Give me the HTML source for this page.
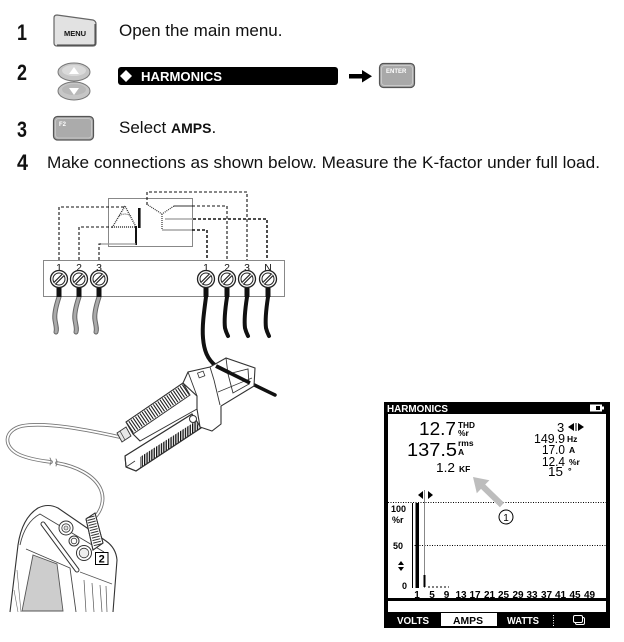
<!DOCTYPE html>
<html>
<head>
<meta charset="utf-8">
<style>
html,body{margin:0;padding:0;background:#fff;}
body{width:624px;height:642px;overflow:hidden;position:relative;}
svg{position:absolute;left:0;top:0;}
text{font-family:"Liberation Sans",Arial,sans-serif;}
</style>
</head>
<body>
<svg width="624" height="642" viewBox="0 0 624 642" xmlns="http://www.w3.org/2000/svg">
<defs>
<pattern id="vstripe" patternUnits="userSpaceOnUse" width="2.4" height="10">
<rect x="0" y="0" width="1.3" height="10" fill="#111"/>
</pattern>
</defs>
<!-- ===== Step numbers ===== -->
<g font-weight="bold" font-size="22" fill="#111">
<text x="17" y="40" textLength="10" lengthAdjust="spacingAndGlyphs">1</text>
<text x="17" y="80" textLength="10" lengthAdjust="spacingAndGlyphs">2</text>
<text x="17" y="137" textLength="10" lengthAdjust="spacingAndGlyphs">3</text>
<text x="17" y="170" textLength="11" lengthAdjust="spacingAndGlyphs">4</text>
</g>
<!-- MENU button -->
<path d="M54,18 Q54,15 57,15 L93,20 Q96,21 96,24 L96,43 Q96,46 93,46 L57,46 Q54,46 54,43 Z" fill="#e2e2e2" stroke="#666" stroke-width="1.2"/>
<path d="M95,24 L95,44 Q95,45 93,45 L57,45" fill="none" stroke="#444" stroke-width="1"/>
<text x="75" y="36" font-size="7.5" font-weight="bold" text-anchor="middle" fill="#111">MENU</text>
<text x="119" y="36" font-size="17" fill="#111">Open the main menu.</text>
<!-- up / down buttons -->
<ellipse cx="74" cy="72" rx="16" ry="9" fill="#c6c6c6" stroke="#777" stroke-width="1"/>
<ellipse cx="74" cy="70.5" rx="12" ry="5.5" fill="#dadada"/>
<polygon points="69,74 79,74 74,67" fill="#fff"/>
<ellipse cx="74" cy="91" rx="16" ry="9" fill="#c6c6c6" stroke="#777" stroke-width="1"/>
<ellipse cx="74" cy="89.5" rx="12" ry="5.5" fill="#b8b8b8"/>
<polygon points="69,88 79,88 74,95" fill="#fff"/>
<!-- HARMONICS bar -->
<rect x="118" y="67" width="220" height="18" rx="3" fill="#000"/>
<polygon points="126,70 132,76 126,82 120,76" fill="#fff"/>
<text x="141" y="81" font-size="13" font-weight="bold" fill="#fff" textLength="81" lengthAdjust="spacingAndGlyphs">HARMONICS</text>
<!-- arrow -->
<rect x="349" y="74" width="14" height="4.5" fill="#000"/>
<polygon points="362,70 372,76.2 362,82.5" fill="#000"/>
<!-- ENTER -->
<rect x="379.5" y="63.5" width="35" height="24" rx="4" fill="#a9a9a9" stroke="#555" stroke-width="1.2"/>
<rect x="381.5" y="65.5" width="31" height="20" rx="3" fill="none" stroke="#c8c8c8" stroke-width="1"/>
<text x="386" y="73" font-size="6" font-weight="bold" fill="#fff">ENTER</text>
<!-- F2 -->
<rect x="53.5" y="116.5" width="40" height="23.5" rx="4" fill="#ababab" stroke="#555" stroke-width="1.2"/>
<rect x="55.5" y="118.5" width="36" height="19.5" rx="3" fill="none" stroke="#c6c6c6" stroke-width="1"/>
<text x="59" y="126" font-size="6" font-weight="bold" fill="#fff">F2</text>
<text x="119" y="133" font-size="17" fill="#111">Select <tspan font-size="14" font-weight="bold">AMPS</tspan>.</text>
<text x="47" y="168" font-size="17" fill="#111" textLength="553" lengthAdjust="spacingAndGlyphs">Make connections as shown below. Measure the K-factor under full load.</text>

<!-- ===== Wiring diagram ===== -->
<rect x="108.5" y="198.5" width="84" height="48" fill="#fff" stroke="#888" stroke-width="1"/>
<path d="M125,206 L112.5,227 L136,227 Z" fill="none" stroke="#333" stroke-width="1.4" stroke-dasharray="1,1"/>
<path d="M119,216 Q125,212 131,216" fill="none" stroke="#333" stroke-width="0.9" stroke-dasharray="1,1"/>
<rect x="138" y="208" width="2.6" height="20" fill="#111"/>
<line x1="136" y1="226" x2="136" y2="245" stroke="#111" stroke-width="2"/>
<line x1="100" y1="244" x2="136" y2="244" stroke="#999" stroke-width="1.2"/>
<path d="M148,205 L162,214 L174,206 M162,214 L162,230" fill="none" stroke="#333" stroke-width="1.2" stroke-dasharray="1,1"/>
<line x1="174" y1="206" x2="192" y2="206" stroke="#333" stroke-width="1"/>
<line x1="165" y1="219" x2="193" y2="219" stroke="#aaa" stroke-width="1.5"/>
<line x1="162" y1="230" x2="192" y2="230" stroke="#777" stroke-width="1"/>
<g fill="none" stroke="#111" stroke-width="1.1" stroke-dasharray="3,2">
<path d="M59,260 L59,207 L125,207"/>
<path d="M79,260 L79,227 L113,227"/>
<path d="M99,260 L99,244 L102,244"/>
<path d="M147,205 L147,192 L247,192 L247,260"/>
<path d="M192,206 L227,206 L227,260"/>
<path d="M193,219 L267,219 L267,260" stroke-width="1.5"/>
<path d="M192,230 L207,230 L207,260" stroke-width="1.5"/>
</g>
<rect x="43.5" y="260.5" width="241" height="36" fill="#fff" stroke="#888" stroke-width="1"/>
<g font-size="10.5" fill="#111" text-anchor="middle">
<text x="59" y="271">1</text><text x="79" y="271">2</text><text x="99" y="271">3</text>
<text x="206" y="271">1</text><text x="227" y="271">2</text><text x="247" y="271">3</text><text x="268" y="271">N</text>
</g>
<g fill="none" stroke-linecap="round">
<g stroke="#666" stroke-width="5">
<path d="M59,297 C56,306 54,314 55,320 C56,326 57,329 56,332"/>
<path d="M79,297 C76,306 74,314 75,320 C76,326 77,329 76,332"/>
<path d="M99,297 C96,306 94,314 95,320 C96,326 97,329 96,332"/>
</g>
<g stroke="#aaa" stroke-width="3">
<path d="M59,297 C56,306 54,314 55,320 C56,326 57,329 56,332"/>
<path d="M79,297 C76,306 74,314 75,320 C76,326 77,329 76,332"/>
<path d="M99,297 C96,306 94,314 95,320 C96,326 97,329 96,332"/>
</g>
<g stroke="#111" stroke-width="4">
<path d="M206,297 C204,312 202,326 203,338 C204,350 207,359 216,366"/>
<path d="M227,297 C225,310 224,320 225,328 C226,332 227,334 228,336"/>
<path d="M247,297 C245,310 244,320 245,328 C246,332 247,334 248,336"/>
<path d="M268,297 C266,310 265,320 266,328 C267,332 268,334 269,336"/>
<path d="M226,372 C245,380 260,388 275,395" stroke-width="3.5"/>
</g>
</g>
<g>
<g><rect x="56.5" y="287" width="5" height="10" fill="#111"/><circle cx="59" cy="279" r="8.5" fill="#fff" stroke="#222" stroke-width="1.3"/><circle cx="59" cy="279" r="6" fill="none" stroke="#222" stroke-width="1"/><line x1="54.5" y1="283.5" x2="63.5" y2="274.5" stroke="#222" stroke-width="3.4"/><line x1="54.5" y1="283.5" x2="63.5" y2="274.5" stroke="#fff" stroke-width="1.2"/></g>
<g><rect x="76.5" y="287" width="5" height="10" fill="#111"/><circle cx="79" cy="279" r="8.5" fill="#fff" stroke="#222" stroke-width="1.3"/><circle cx="79" cy="279" r="6" fill="none" stroke="#222" stroke-width="1"/><line x1="74.5" y1="283.5" x2="83.5" y2="274.5" stroke="#222" stroke-width="3.4"/><line x1="74.5" y1="283.5" x2="83.5" y2="274.5" stroke="#fff" stroke-width="1.2"/></g>
<g><rect x="96.5" y="287" width="5" height="10" fill="#111"/><circle cx="99" cy="279" r="8.5" fill="#fff" stroke="#222" stroke-width="1.3"/><circle cx="99" cy="279" r="6" fill="none" stroke="#222" stroke-width="1"/><line x1="94.5" y1="283.5" x2="103.5" y2="274.5" stroke="#222" stroke-width="3.4"/><line x1="94.5" y1="283.5" x2="103.5" y2="274.5" stroke="#fff" stroke-width="1.2"/></g>
<g><rect x="203.5" y="287" width="5" height="10" fill="#111"/><circle cx="206" cy="279" r="8.5" fill="#fff" stroke="#222" stroke-width="1.3"/><circle cx="206" cy="279" r="6" fill="none" stroke="#222" stroke-width="1"/><line x1="201.5" y1="283.5" x2="210.5" y2="274.5" stroke="#222" stroke-width="3.4"/><line x1="201.5" y1="283.5" x2="210.5" y2="274.5" stroke="#fff" stroke-width="1.2"/></g>
<g><rect x="224.5" y="287" width="5" height="10" fill="#111"/><circle cx="227" cy="279" r="8.5" fill="#fff" stroke="#222" stroke-width="1.3"/><circle cx="227" cy="279" r="6" fill="none" stroke="#222" stroke-width="1"/><line x1="222.5" y1="283.5" x2="231.5" y2="274.5" stroke="#222" stroke-width="3.4"/><line x1="222.5" y1="283.5" x2="231.5" y2="274.5" stroke="#fff" stroke-width="1.2"/></g>
<g><rect x="244.5" y="287" width="5" height="10" fill="#111"/><circle cx="247" cy="279" r="8.5" fill="#fff" stroke="#222" stroke-width="1.3"/><circle cx="247" cy="279" r="6" fill="none" stroke="#222" stroke-width="1"/><line x1="242.5" y1="283.5" x2="251.5" y2="274.5" stroke="#222" stroke-width="3.4"/><line x1="242.5" y1="283.5" x2="251.5" y2="274.5" stroke="#fff" stroke-width="1.2"/></g>
<g><rect x="265.5" y="287" width="5" height="10" fill="#111"/><circle cx="268" cy="279" r="8.5" fill="#fff" stroke="#222" stroke-width="1.3"/><circle cx="268" cy="279" r="6" fill="none" stroke="#222" stroke-width="1"/><line x1="263.5" y1="283.5" x2="272.5" y2="274.5" stroke="#222" stroke-width="3.4"/><line x1="263.5" y1="283.5" x2="272.5" y2="274.5" stroke="#fff" stroke-width="1.2"/></g>
</g>

<!-- ===== Current clamp ===== -->
<g fill="none" stroke-linecap="round">
<path d="M120,437 C100,433 50,421 22,426 C4,430 2,447 20,455 C32,460 44,461 51,462 M57,463 C75,466 95,475 101,490 C105,500 101,510 96,516" stroke="#777" stroke-width="3.6"/>
<path d="M120,437 C100,433 50,421 22,426 C4,430 2,447 20,455 C32,460 44,461 51,462 M57,463 C75,466 95,475 101,490 C105,500 101,510 96,516" stroke="#fff" stroke-width="1.8"/>
<path d="M50,458 Q52,461 50,465 M56,459 Q58,462 56,466" stroke="#777" stroke-width="0.9"/>
</g>
<polygon points="117,433 126,427 131,436 122,442" fill="#e6e6e6" stroke="#333" stroke-width="0.9"/>
<line x1="120" y1="431" x2="125" y2="440" stroke="#333" stroke-width="0.7"/>
<!-- lower jaw -->
<polygon points="125,456 192,414 201,428 136,471 126,467" fill="#fff" stroke="#333" stroke-width="1.1"/>
<polygon points="140,468 200,429 196,421 140,457" fill="url(#vstripe)"/>
<polygon points="125,456 192,414 201,428 136,471 126,467" fill="none" stroke="#333" stroke-width="1.1"/>
<line x1="126" y1="467" x2="135" y2="461" stroke="#333" stroke-width="0.8"/>
<!-- ribbed upper handle -->
<polygon points="126,422 183,383 197,396 197,409 140,441 133,434" fill="#fff" stroke="#333" stroke-width="1"/>
<line x1="129.5" y1="428" x2="186.5" y2="389" stroke="#222" stroke-width="12" stroke-dasharray="1.1,1.6"/>
<polygon points="126,422 183,383 190,395 133,434" fill="none" stroke="#333" stroke-width="1"/>
<line x1="133" y1="434" x2="140" y2="441" stroke="#333" stroke-width="1"/>
<!-- head -->
<polygon points="183,383 188,372 210,367 226,358 255,368 254,386 221,406 221,424 212,431 200,427 197,409 197,396" fill="#fff" stroke="#333" stroke-width="1.1"/>
<polygon points="228,374 248,369 249,384 233,393" fill="#fff" stroke="#333" stroke-width="0.9"/>
<line x1="188" y1="372" x2="197" y2="396" stroke="#333" stroke-width="0.9"/>
<line x1="210" y1="367" x2="214" y2="380" stroke="#333" stroke-width="0.9"/>
<line x1="214" y1="380" x2="220" y2="405" stroke="#333" stroke-width="0.9"/>
<line x1="226" y1="358" x2="228" y2="374" stroke="#333" stroke-width="0.9"/>
<line x1="218" y1="392" x2="252" y2="378" stroke="#333" stroke-width="0.7"/>
<rect x="198" y="372" width="6" height="5" fill="#fff" stroke="#333" stroke-width="0.8" transform="rotate(-20 201 374)"/>
<circle cx="193" cy="419" r="3.5" fill="#fff" stroke="#333" stroke-width="1"/>
<path d="M216,366 C222,369 226,371 230,373" stroke="#111" stroke-width="4" fill="none"/>
<path d="M230,373 C238,377 244,380 250,383" stroke="#111" stroke-width="3.5" fill="none"/>

<!-- ===== Instrument ===== -->
<path d="M10,612 L18,545 Q22,518 38,508 Q48,503 58,508 L106,541 Q116,548 117,560 L113,612" fill="#fff" stroke="#333" stroke-width="1.1"/>
<path d="M20,545 Q25,522 40,514 L104,552" fill="none" stroke="#444" stroke-width="0.9"/>
<path d="M26,549 L70,568 L76,612" fill="none" stroke="#444" stroke-width="0.9"/>
<path d="M14,590 L18,612 M17,570 L21,612" fill="none" stroke="#666" stroke-width="0.6"/>
<path d="M80,572 L112,584 M84,580 L86,612 M92,583 L94,612 M100,585 L102,612 M106,586 L107,612" fill="none" stroke="#555" stroke-width="0.7"/>
<polygon points="33,555 57,564 63,611 22,611" fill="#cdcdcd" stroke="#555" stroke-width="0.9"/>
<path d="M43,524 L77,570" stroke="#333" stroke-width="5" stroke-linecap="round" fill="none"/>
<path d="M43,524 L77,570" stroke="#fff" stroke-width="3" stroke-linecap="round" fill="none"/>
<circle cx="66" cy="528" r="7" fill="#fff" stroke="#333" stroke-width="1"/>
<circle cx="66" cy="528" r="4.2" fill="none" stroke="#333" stroke-width="0.8"/>
<circle cx="66" cy="528" r="2" fill="#ddd" stroke="#333" stroke-width="0.6"/>
<circle cx="74" cy="541" r="5" fill="#fff" stroke="#333" stroke-width="1"/>
<circle cx="74" cy="541" r="2.8" fill="none" stroke="#333" stroke-width="0.8"/>
<circle cx="84" cy="553" r="7.5" fill="#fff" stroke="#333" stroke-width="1"/>
<circle cx="84" cy="553" r="4.8" fill="#eee" stroke="#333" stroke-width="0.8"/>
<polygon points="86,519 95,513 103,543 93,550" fill="#fff" stroke="#333" stroke-width="1"/>
<line x1="90.5" y1="516.5" x2="98" y2="546" stroke="#333" stroke-width="8" stroke-dasharray="1,1.6"/>
<polygon points="86,519 95,513 103,543 93,550" fill="none" stroke="#333" stroke-width="1"/>
<rect x="95.5" y="552.5" width="12.5" height="12" fill="#fff" stroke="#000" stroke-width="1"/>
<text x="101.7" y="562.5" font-size="11" font-weight="bold" text-anchor="middle" fill="#000">2</text>

<!-- ===== Meter screen ===== -->
<rect x="384" y="402" width="226" height="226" fill="#000"/>
<rect x="388" y="414" width="218" height="184" fill="#fff"/>
<rect x="388" y="601" width="218" height="11" fill="#fff"/>
<rect x="441" y="613" width="56" height="13" fill="#fff"/>
<text x="387" y="412" font-size="10" font-weight="bold" fill="#fff" textLength="61" lengthAdjust="spacingAndGlyphs">HARMONICS</text>
<rect x="590" y="404.5" width="12" height="7" fill="#fff"/>
<rect x="596" y="406" width="4" height="4" fill="#000"/>
<rect x="602" y="406.5" width="2" height="3" fill="#fff"/>
<g fill="#000">
<text x="419" y="435" font-size="18" textLength="37" lengthAdjust="spacingAndGlyphs">12.7</text>
<text x="458" y="428" font-size="8.5" font-weight="bold" textLength="17" lengthAdjust="spacingAndGlyphs">THD</text>
<text x="458" y="436" font-size="8.5" font-weight="bold">%r</text>
<text x="407" y="456" font-size="18" textLength="50" lengthAdjust="spacingAndGlyphs">137.5</text>
<text x="458" y="446" font-size="8.5" font-weight="bold">rms</text>
<text x="458" y="455" font-size="8.5" font-weight="bold">A</text>
<text x="436" y="472" font-size="13" textLength="19" lengthAdjust="spacingAndGlyphs">1.2</text>
<text x="459" y="472" font-size="8.5" font-weight="bold">KF</text>
<polygon points="418,495 423,491 423,499"/>
<polygon points="428,491 428,499 433,495"/>
<text x="557" y="432" font-size="13">3</text>
<polygon points="568,427 574,423 574,431"/>
<rect x="575.5" y="423" width="1" height="8"/>
<polygon points="578,423 578,431 584,427"/>
<text x="534" y="443" font-size="13" textLength="31" lengthAdjust="spacingAndGlyphs">149.9</text>
<text x="567" y="442" font-size="8.5" font-weight="bold">Hz</text>
<text x="542" y="454" font-size="13" textLength="23" lengthAdjust="spacingAndGlyphs">17.0</text>
<text x="569" y="453" font-size="8.5" font-weight="bold">A</text>
<text x="542" y="466" font-size="13" textLength="23" lengthAdjust="spacingAndGlyphs">12.4</text>
<text x="569" y="465" font-size="8.5" font-weight="bold">%r</text>
<text x="548" y="476" font-size="13" textLength="15" lengthAdjust="spacingAndGlyphs">15</text>
<text x="568" y="474" font-size="9" font-weight="bold">°</text>
</g>
<line x1="388" y1="502.5" x2="606" y2="502.5" stroke="#000" stroke-width="1" stroke-dasharray="1,1.5"/>
<line x1="412" y1="545.5" x2="606" y2="545.5" stroke="#000" stroke-width="1" stroke-dasharray="1,1.5"/>
<line x1="412.5" y1="503" x2="412.5" y2="588" stroke="#000" stroke-width="1"/>
<line x1="424.5" y1="490" x2="424.5" y2="588" stroke="#888" stroke-width="1"/>
<rect x="415.5" y="503" width="3.5" height="85" fill="#000"/>
<rect x="423.5" y="575" width="2" height="12" fill="#000"/>
<line x1="428" y1="587" x2="449" y2="587" stroke="#000" stroke-width="1" stroke-dasharray="2,2"/>
<g font-size="9" font-weight="bold" fill="#000">
<text x="391" y="512">100</text>
<text x="392" y="523">%r</text>
<text x="393" y="549">50</text>
<text x="402" y="589">0</text>
</g>
<polygon points="398,565 404,565 401,561" fill="#000"/>
<polygon points="398,567 404,567 401,571" fill="#000"/>
<g font-size="10" font-weight="bold" fill="#000" text-anchor="middle">
<text x="417" y="598">1</text>
<text x="432" y="598">5</text>
<text x="446.5" y="598">9</text>
<text x="461" y="598">13</text>
<text x="475" y="598">17</text>
<text x="489.5" y="598">21</text>
<text x="503.5" y="598">25</text>
<text x="518" y="598">29</text>
<text x="532" y="598">33</text>
<text x="546.5" y="598">37</text>
<text x="560.5" y="598">41</text>
<text x="575" y="598">45</text>
<text x="589.5" y="598">49</text>
</g>
<g font-size="10" font-weight="bold" text-anchor="middle">
<text x="413" y="624" fill="#fff" textLength="32" lengthAdjust="spacingAndGlyphs">VOLTS</text>
<text x="468" y="624" fill="#000" textLength="30" lengthAdjust="spacingAndGlyphs">AMPS</text>
<text x="523" y="624" fill="#fff" textLength="32" lengthAdjust="spacingAndGlyphs">WATTS</text>
</g>
<line x1="553.5" y1="615" x2="553.5" y2="626" stroke="#fff" stroke-width="1" stroke-dasharray="1,1.5"/>
<rect x="575.5" y="617.5" width="9" height="7" rx="1.5" fill="none" stroke="#fff" stroke-width="1"/>
<rect x="573.5" y="615.5" width="9" height="7" rx="1.5" fill="#000" stroke="#fff" stroke-width="1"/>
<polygon points="473,477 489.4,480.2 485.2,484.5 504.1,502.8 499.9,507.2 481,488.9 476.8,493.2" fill="#bdbdbd"/>
<circle cx="506" cy="517" r="7" fill="#fff" stroke="#000" stroke-width="1"/>
<text x="506" y="521" font-size="10" text-anchor="middle" fill="#000">1</text>
</svg>
</body>
</html>
